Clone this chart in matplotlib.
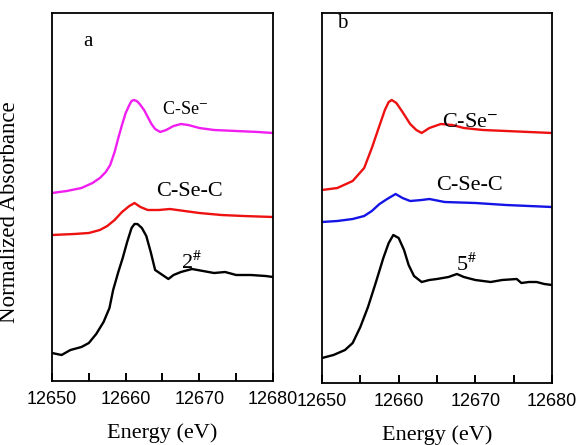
import matplotlib
matplotlib.use('Agg')
import matplotlib.pyplot as plt
from matplotlib.ticker import MultipleLocator

plt.rcParams['mathtext.fontset'] = 'stix'

# panel a: energy (eV) / normalized absorbance with vertical offsets
a_cse_x = [12650, 12652, 12654, 12655.5, 12656.5, 12657.3, 12657.9, 12658.5, 12659, 12659.5,
           12660, 12660.5, 12660.8, 12661.1, 12661.5, 12661.9, 12662.5, 12663, 12663.5, 12664, 12664.7,
           12665.5, 12666.5, 12667.5, 12668.5, 12670, 12672, 12675, 12678, 12680]
a_cse_y = [1.88, 1.90, 1.93, 1.98, 2.03, 2.09, 2.16, 2.29, 2.43, 2.56,
           2.68, 2.76, 2.80, 2.81, 2.80, 2.77, 2.71, 2.64, 2.57, 2.52, 2.49,
           2.51, 2.55, 2.57, 2.56, 2.53, 2.51, 2.50, 2.49, 2.48]

a_csec_x = [12650, 12653, 12655, 12656.5, 12657.5, 12658.5, 12659.5, 12660.5, 12661.2, 12662,
            12663, 12664.5, 12666, 12668, 12670, 12673, 12676, 12680]
a_csec_y = [1.46, 1.47, 1.48, 1.51, 1.55, 1.61, 1.69, 1.75, 1.78, 1.74,
            1.71, 1.71, 1.72, 1.70, 1.68, 1.66, 1.65, 1.64]

a_s2_x = [12650, 12651.3, 12652.5, 12654, 12655, 12656, 12657, 12657.8, 12658.3, 12659,
          12659.6, 12660.2, 12660.8, 12661.2, 12661.6, 12662.2, 12662.8, 12663.4, 12664, 12664.8, 12665.8,
          12666.5, 12667.5, 12669, 12670.5, 12672, 12673.5, 12675, 12677, 12679, 12680]
a_s2_y = [0.28, 0.26, 0.31, 0.34, 0.38, 0.47, 0.59, 0.73, 0.91, 1.09,
          1.23, 1.39, 1.53, 1.57, 1.57, 1.53, 1.45, 1.29, 1.11, 1.07, 1.02,
          1.06, 1.09, 1.12, 1.10, 1.08, 1.09, 1.06, 1.06, 1.05, 1.04]

# panel b
b_cse_x = [12650, 12652, 12654, 12655.5, 12656.5, 12657.3, 12658.2, 12658.7, 12659.1, 12659.7, 12660.5,
           12661.5, 12662.3, 12663, 12664, 12665.5, 12667, 12668.5, 12671, 12674, 12677, 12680]
b_cse_y = [1.93, 1.95, 2.02, 2.15, 2.35, 2.53, 2.73, 2.81, 2.83, 2.80, 2.71,
           2.59, 2.53, 2.50, 2.55, 2.59, 2.58, 2.55, 2.53, 2.52, 2.51, 2.50]

b_csec_x = [12650, 12652, 12654, 12655.5, 12656.5, 12657.5, 12658.5, 12659.6, 12660.5, 12661.5,
            12663, 12664, 12666, 12670, 12674, 12680]
b_csec_y = [1.61, 1.62, 1.64, 1.67, 1.72, 1.79, 1.84, 1.89, 1.85, 1.82,
            1.83, 1.84, 1.81, 1.80, 1.78, 1.76]

b_s5_x = [12650, 12651.5, 12653, 12654, 12655, 12656, 12657, 12658, 12658.7, 12659.3,
          12660, 12660.7, 12661.3, 12662, 12663, 12664, 12665, 12666.5, 12667.6, 12668.5,
          12670, 12672, 12673.5, 12675.4, 12676, 12677, 12678, 12679, 12680]
b_s5_y = [0.25, 0.28, 0.33, 0.40, 0.56, 0.76, 1.00, 1.25, 1.40, 1.48,
          1.45, 1.33, 1.18, 1.07, 1.01, 1.03, 1.04, 1.06, 1.09, 1.06,
          1.03, 1.01, 1.03, 1.04, 1.00, 1.01, 1.01, 0.99, 0.98]

serif = 'Liberation Serif'
sans = 'Liberation Sans'

fig = plt.figure(figsize=(5.76, 4.45), dpi=100)
ax1 = fig.add_axes([52/576, 1-381/445, 221/576, 368/445])
ax2 = fig.add_axes([322/576, 1-383/445, 230/576, 370/445])

lw = 1.7
ax1.plot(a_cse_x, a_cse_y, color='#f01ef0', lw=lw)
ax1.plot(a_csec_x, a_csec_y, color='#ee1111', lw=lw)
ax1.plot(a_s2_x, a_s2_y, color='black', lw=lw)
ax1.set_ylim(0, 3.68)

ax2.plot(b_cse_x, b_cse_y, color='#ee1111', lw=lw)
ax2.plot(b_csec_x, b_csec_y, color='#1414e6', lw=lw)
ax2.plot(b_s5_x, b_s5_y, color='black', lw=lw)
ax2.set_ylim(0, 3.70)

for ax in (ax1, ax2):
    ax.set_xlim(12650, 12680)
    ax.set_yticks([])
    ax.xaxis.set_major_locator(MultipleLocator(10))
    ax.xaxis.set_minor_locator(MultipleLocator(5))
    ax.tick_params(axis='x', which='both', direction='in', length=6, width=1.4,
                   pad=7, labelsize=13, top=False)
    for lab in ax.get_xticklabels():
        lab.set_fontfamily(sans)
    for s in ax.spines.values():
        s.set_linewidth(1.3)

ax1.set_xlabel('Energy (eV)', fontsize=16, fontfamily=serif, labelpad=11)
ax2.set_xlabel('Energy (eV)', fontsize=16, fontfamily=serif, labelpad=11)
ax1.set_ylabel('Normalized Absorbance', fontsize=16.5, fontfamily=serif)
ax1.yaxis.set_label_coords(-0.145, 0.46)

ax1.text(12654.9, 3.39, 'a', fontsize=15, fontfamily=serif, ha='center', va='center')
ax1.text(12668.0, 2.71, 'C-Se$^{-}$', fontsize=13, fontfamily=serif, ha='center', va='center')
ax1.text(12668.7, 1.89, 'C-Se-C', fontsize=16, fontfamily=serif, ha='center', va='center')
ax1.text(12669.0, 1.18, '2$^{\\#}$', fontsize=16, fontfamily=serif, ha='center', va='center')

ax2.text(12652.7, 3.60, 'b', fontsize=15, fontfamily=serif, ha='center', va='center')
ax2.text(12669.3, 2.61, 'C-Se$^{-}$', fontsize=16, fontfamily=serif, ha='center', va='center')
ax2.text(12669.3, 1.98, 'C-Se-C', fontsize=16, fontfamily=serif, ha='center', va='center')
ax2.text(12668.9, 1.18, '5$^{\\#}$', fontsize=16, fontfamily=serif, ha='center', va='center')

fig.savefig('out.png', dpi=100)
